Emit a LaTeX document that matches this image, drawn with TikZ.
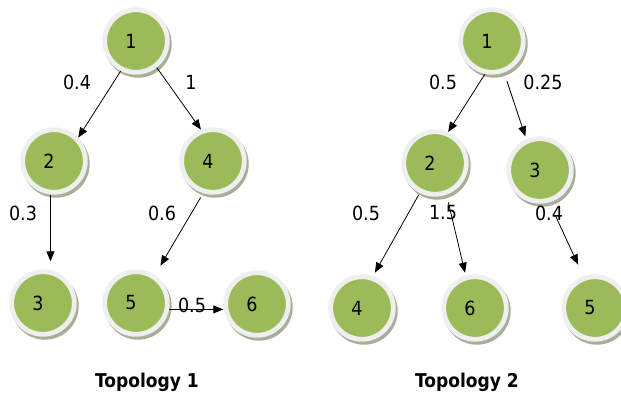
\documentclass[tikz,border=0pt]{standalone}
\usepackage{fontspec}
\setmainfont{DejaVu Sans Condensed}
\usetikzlibrary{arrows.meta}
\definecolor{nodegreen}{HTML}{9BBB59}
\definecolor{ringgray}{HTML}{EFEFEF}
\definecolor{shadowcol}{HTML}{A7AF98}
\newcommand{\vnum}[1]{\raisebox{-2pt}{\makebox[0pt][c]{\hspace*{-10pt}#1}}}
\tikzset{
  vert/.style={circle, inner sep=0pt, minimum size=62.6pt, fill=nodegreen, draw=ringgray, line width=4.8pt,
    preaction={draw=shadowcol, fill=shadowcol, transform canvas={shift={(2pt,-3pt)}}},
    font=\fontsize{19.5}{22}\selectfont},
  wlabel/.style={inner sep=0pt, font=\fontsize{19.5}{22}\selectfont},
  title/.style={inner sep=0pt, font=\bfseries\fontsize{19}{22}\selectfont},
  edge/.style={-{Triangle[length=10pt,width=8pt]}, line width=0.8pt}
}
\begin{document}
\begin{tikzpicture}[x=1pt,y=-1pt]
\useasboundingbox (0,0) rectangle (621,392);
% Topology 1
\node[vert] (a1) at (136,41) {\vnum{1}};
\node[vert] (a2) at (54,161) {\vnum{2}};
\node[vert] (a4) at (213,161) {\vnum{4}};
\node[vert] (a3) at (43,303) {\vnum{3}};
\node[vert] (a5) at (136,303) {\vnum{5}};
\node[vert] (a6) at (257,304) {\vnum{6}};
\draw[edge] (a1.243) -- (a2.44);
\draw[edge] (a1.308) -- (a4.111);
\draw[edge, shorten >=8pt] (a2.264) -- (a2.264 |- a3.north);
\draw[edge, shorten <=5pt, shorten >=11pt] (a4.253) -- (a5.56);
\draw[edge] (a5.349) -- (a5.349 -| a6.west);
\node[wlabel] (la12) at (77,82) {0.4};
\node[wlabel] (la14) at (191,82) {1};
\node[wlabel] (la23) at (23,213) {0.3};
\node[wlabel] (la45) at (162,213) {0.6};
\node[wlabel] (la56) at (192,305) {0.5};
\node[title] (t1) at (147,382) {Topology 1};
% Topology 2
\node[vert] (b1) at (492,41) {\vnum{1}};
\node[vert] (b2) at (435,163) {\vnum{2}};
\node[vert] (b3) at (540,170) {\vnum{3}};
\node[vert] (b4) at (362,308) {\vnum{4}};
\node[vert] (b6) at (475,308) {\vnum{6}};
\node[vert] (b5) at (595,308) {\vnum{5}};
\draw[edge] (b1.258) -- (b2.67);
\draw[edge, shorten <=9pt, shorten >=3pt] (b1.291) -- (b3.114);
\draw[edge, shorten <=2pt, shorten >=4pt] (b2.243) -- (b4.71);
\draw[edge, shorten <=8pt, shorten >=3pt] (b2.290) -- (b6.106);
\draw[edge, shorten <=14pt, shorten >=13pt] (b3.286) -- (b5.110);
\node[wlabel] (lb12) at (443,82) {0.5};
\node[wlabel] (lb13) at (543,82) {0.25};
\node[wlabel] (lb24) at (366,213) {0.5};
\node[wlabel] (lb26) at (443,213) {1.5};
\node[wlabel] (lb35) at (549,213) {0.4};
\node[title] (t2) at (467,382) {Topology 2};
\end{tikzpicture}
\end{document}
